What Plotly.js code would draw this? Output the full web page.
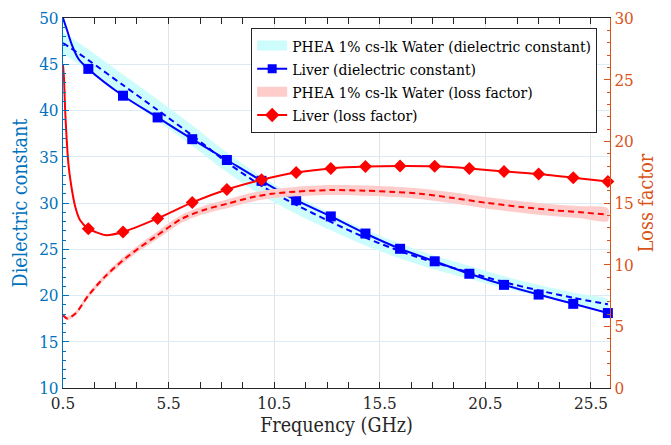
<!DOCTYPE html>
<html><head><meta charset="utf-8">
<script src="https://cdn.plot.ly/plotly-3.0.1.min.js"></script>
<style>html,body{margin:0;padding:0;background:#fff}#chart{width:671px;height:445px}</style>
</head><body><div id="chart"></div>
<script>
const tickVals = [0.5, 5.5, 10.5, 15.5, 20.5, 25.5];
const tickText = ['0.5', '5.5', '10.5', '15.5', '20.5', '25.5'];
const markerFreq = [1.70, 3.34, 4.98, 6.62, 8.26, 9.90, 11.54, 13.18, 14.82, 16.46, 18.10, 19.74, 21.38, 23.02, 24.66, 26.30];
const liverEpsMarkers = [44.5, 41.6, 39.25, 36.9, 34.65, 32.4, 30.3, 28.55, 26.7, 25.05, 23.7, 22.35, 21.15, 20.1, 19.1, 18.1];
const liverLossMarkers = [12.92, 12.65, 13.75, 15.05, 16.1, 16.88, 17.47, 17.8, 17.95, 18.0, 17.97, 17.8, 17.55, 17.35, 17.05, 16.75];
const liverEpsExtraFreq = [0.5, 0.69, 0.92, 1.23];
const liverEpsExtra = [50.0, 48.7, 47.1, 45.6];
const liverLossExtraFreq = [0.5, 0.55, 0.6, 0.76, 0.9, 1.08, 1.31, 2.5];
const liverLossExtra = [26.2, 25.0, 22.6, 18.1, 16.3, 14.7, 13.6, 12.4];
const pheaEpsFreq = [0.5, 1.7, 3.34, 4.98, 6.62, 8.26, 9.9, 11.54, 13.18, 14.82, 16.46, 18.1, 19.74, 21.38, 23.02, 24.66, 26.3];
const pheaEps = [47.3, 45.45, 42.75, 40.05, 37.3, 34.4, 31.85, 29.8, 27.95, 26.25, 24.8, 23.55, 22.5, 21.45, 20.55, 19.75, 19.05];
const pheaEpsSpread = [1.15, 1.15, 1.15, 1.15, 1.1, 1.05, 1.0, 0.95, 0.9, 0.85, 0.8, 0.75, 0.7, 0.65, 0.6, 0.55, 0.5];
const pheaLossFreq = [0.5, 0.7, 1.1, 1.7, 2.5, 3.3, 4.1, 4.9, 6.1, 7.2, 8.3, 9.4, 10.4, 11.5, 13.2, 14.8, 16.2, 17.4, 19.0, 20.6, 22.2, 23.8, 25.0, 26.3];
const pheaLoss = [5.9, 5.64, 6.05, 7.5, 9.05, 10.3, 11.35, 12.3, 13.7, 14.45, 14.95, 15.45, 15.75, 15.92, 16.05, 16.0, 15.9, 15.75, 15.4, 15.0, 14.68, 14.4, 14.25, 14.05];
const pheaLossSpread = [0.15, 0.15, 0.17, 0.2, 0.22, 0.25, 0.27, 0.3, 0.32, 0.33, 0.35, 0.36, 0.37, 0.38, 0.4, 0.41, 0.42, 0.43, 0.45, 0.46, 0.47, 0.48, 0.49, 0.5];

function merge(xa, ya, xb, yb) {
  const pts = xa.map((x, i) => [x, ya[i]]).concat(xb.map((x, i) => [x, yb[i]]));
  pts.sort((a, b) => a[0] - b[0]);
  return {x: pts.map(p => p[0]), y: pts.map(p => p[1])};
}
function band(xs, c, s) {
  const up = c.map((v, i) => v + s[i]);
  const lo = c.map((v, i) => v - s[i]);
  return {x: xs.concat(xs.slice().reverse()), y: up.concat(lo.slice().reverse())};
}

const BLUE = '#0000ff', RED = '#ff0000';
const CYAN = 'rgb(204,252,252)', PINK = 'rgb(255,204,204)';
const AX_L = '#0072BD', AX_R = '#D95319', AX_X = '#262626';
const FONT = 'DejaVu Serif Condensed';

const epsCurve = merge(liverEpsExtraFreq, liverEpsExtra, markerFreq, liverEpsMarkers);
const lossCurve = merge(liverLossExtraFreq, liverLossExtra, markerFreq, liverLossMarkers);
const epsBand = band(pheaEpsFreq, pheaEps, pheaEpsSpread);
const lossBand = band(pheaLossFreq, pheaLoss, pheaLossSpread);

const legendNames = ['PHEA 1% cs-lk Water (dielectric constant)', 'Liver (dielectric constant)',
                     'PHEA 1% cs-lk Water (loss factor)', 'Liver (loss factor)'];

const traces = [
  {x: epsBand.x, y: epsBand.y, type: 'scatter', mode: 'lines', fill: 'toself', fillcolor: CYAN,
   line: {width: 0, shape: 'spline', smoothing: 0.8}, showlegend: false, hoverinfo: 'skip', yaxis: 'y'},
  {x: pheaEpsFreq, y: pheaEps, type: 'scatter', mode: 'lines',
   line: {color: BLUE, width: 2, dash: '6px,4px', shape: 'spline', smoothing: 0.8}, showlegend: false, yaxis: 'y'},
  {x: epsCurve.x, y: epsCurve.y, type: 'scatter', mode: 'lines',
   line: {color: BLUE, width: 2, shape: 'spline', smoothing: 0.8}, showlegend: false, yaxis: 'y', cliponaxis: false},
  {x: markerFreq, y: liverEpsMarkers, type: 'scatter', mode: 'markers',
   marker: {color: BLUE, symbol: 'square', size: 10}, showlegend: false, yaxis: 'y', cliponaxis: false},
  {x: lossBand.x, y: lossBand.y, type: 'scatter', mode: 'lines', fill: 'toself', fillcolor: PINK,
   line: {width: 0, shape: 'spline', smoothing: 0.8}, showlegend: false, hoverinfo: 'skip', yaxis: 'y2'},
  {x: pheaLossFreq, y: pheaLoss, type: 'scatter', mode: 'lines',
   line: {color: RED, width: 2, dash: '6px,4px', shape: 'spline', smoothing: 0.8}, showlegend: false, yaxis: 'y2'},
  {x: lossCurve.x, y: lossCurve.y, type: 'scatter', mode: 'lines',
   line: {color: RED, width: 2, shape: 'spline', smoothing: 0.6}, showlegend: false, yaxis: 'y2', cliponaxis: false},
  {x: markerFreq, y: liverLossMarkers, type: 'scatter', mode: 'markers',
   marker: {color: RED, symbol: 'diamond', size: 10}, showlegend: false, yaxis: 'y2', cliponaxis: false},
  {x: [null], y: [null], type: 'scatter', mode: 'lines', name: legendNames[0], line: {color: CYAN, width: 10}, legendrank: 1},
  {x: [null], y: [null], type: 'scatter', mode: 'lines+markers', name: legendNames[1], line: {color: BLUE, width: 2},
   marker: {color: BLUE, symbol: 'square', size: 9}, legendrank: 2},
  {x: [null], y: [null], type: 'scatter', mode: 'lines', name: legendNames[2], line: {color: PINK, width: 10}, legendrank: 3},
  {x: [null], y: [null], type: 'scatter', mode: 'lines+markers', name: legendNames[3], line: {color: RED, width: 2},
   marker: {color: RED, symbol: 'diamond', size: 11}, legendrank: 4}
];

const minorX = [];
tickVals.forEach(t => [1.5, 2.5, 3.5].forEach(o => { if (t + o < 26.4) minorX.push(t + o); }));

const layout = {
  width: 671, height: 445,
  margin: {l: 63, r: 61, t: 18, b: 57},
  paper_bgcolor: '#fff', plot_bgcolor: '#fff',
  font: {family: FONT, color: AX_X},
  showlegend: true,
  xaxis: {
    range: [0.5, 26.4], tickmode: 'array', tickvals: tickVals, ticktext: tickText,
    ticks: 'inside', ticklen: 6, tickcolor: AX_X, tickwidth: 1,
    showline: true, linecolor: AX_X, linewidth: 1, mirror: 'allticks',
    showgrid: true, gridcolor: '#e3e3e3', gridwidth: 1, zeroline: false,
    tickfont: {family: FONT, size: 17, color: AX_X},
    minor: {tickmode: 'array', tickvals: minorX, ticks: 'inside', ticklen: 3, tickcolor: AX_X, showgrid: false},
    title: {text: 'Frequency (GHz)', font: {family: FONT, size: 19.5, color: AX_X}, standoff: 5}
  },
  yaxis: {
    range: [10, 50], tickmode: 'linear', tick0: 10, dtick: 5,
    ticks: 'inside', ticklen: 6, tickcolor: AX_L, tickwidth: 1,
    showline: true, linecolor: AX_L, linewidth: 1,
    showgrid: true, gridcolor: '#dcebf6', gridwidth: 1, zeroline: false,
    tickfont: {family: FONT, size: 17, color: AX_L},
    minor: {dtick: 1, tick0: 10, ticks: 'inside', ticklen: 3, tickcolor: AX_L, showgrid: false},
    title: {text: 'Dielectric constant', font: {family: FONT, size: 19.5, color: AX_L}, standoff: 6}
  },
  yaxis2: {
    range: [0, 30], overlaying: 'y', side: 'right', tickmode: 'linear', tick0: 0, dtick: 5,
    ticks: 'inside', ticklen: 6, tickcolor: AX_R, tickwidth: 1,
    showline: true, linecolor: AX_R, linewidth: 1,
    showgrid: false, zeroline: false,
    tickfont: {family: FONT, size: 17, color: AX_R},
    minor: {dtick: 1, tick0: 0, ticks: 'inside', ticklen: 3, tickcolor: AX_R, showgrid: false},
    title: {text: 'Loss factor', font: {family: FONT, size: 19.5, color: AX_R}, standoff: 6}
  },
  legend: {
    x: 0.344, y: 0.973, xanchor: 'left', yanchor: 'top',
    bgcolor: '#ffffff', bordercolor: AX_X, borderwidth: 1,
    font: {family: FONT, size: 15.5, color: '#000'},
    tracegroupgap: 0, itemwidth: 30
  }
};

Plotly.newPlot('chart', traces, layout, {staticPlot: true, displayModeBar: false});
</script>
</body></html>
